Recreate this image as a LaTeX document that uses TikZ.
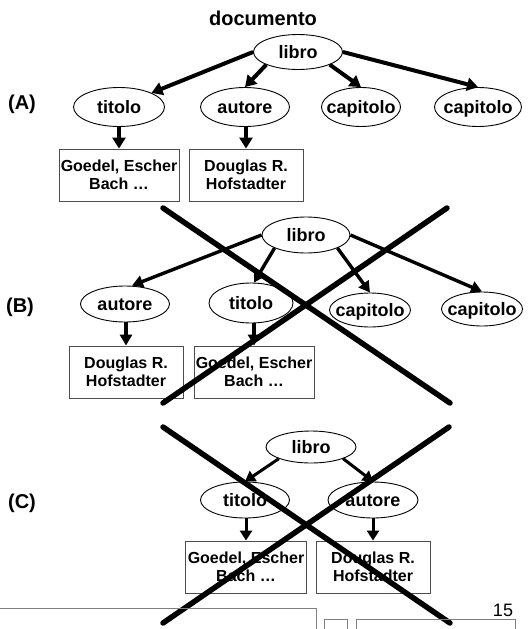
\documentclass[tikz,border=0pt]{standalone}
\usepackage{fontspec}
\setmainfont{Liberation Sans}
\usetikzlibrary{shapes.geometric,arrows.meta}
\newcommand{\ct}[1]{\makebox[0pt]{\raisebox{-0.36em}[0pt][0pt]{#1}}}
\begin{document}
\begin{tikzpicture}[x=1pt,y=-1pt,
  el/.style={ellipse,draw,line width=0.9pt,inner sep=0pt,font=\bfseries\fontsize{18}{20}\selectfont},
  bx/.style={rectangle,draw=black!70,line width=0.9pt,inner sep=0pt,minimum height=52pt,align=center,font=\bfseries\fontsize{16}{18}\selectfont},
  lab/.style={font=\bfseries\fontsize{20}{22}\selectfont,inner sep=0pt},
  arA/.style={-{Triangle[length=11pt,width=13pt]},line width=4pt},
  arB/.style={-{Triangle[length=11pt,width=12pt]},line width=3.4pt},
  arC/.style={-{Triangle[length=10pt,width=12pt]},line width=3pt},
  crossline/.style={line width=5.5pt,line cap=round},
  frame/.style={draw=black!50,line width=0.9pt}
]
\useasboundingbox (0,0) rectangle (528,629);

% ---------------- (A)
\node[lab] (doc) at (263,18) {documento};
\node[lab] (labA) at (22,104) {(A)};
\node[el,minimum width=89pt,minimum height=35pt] (libroA) at (298,52) {\ct{libro}};
\node[el,minimum width=91pt,minimum height=39pt] (titoloA) at (119,107) {\ct{titolo}};
\node[el,minimum width=89pt,minimum height=39pt] (autoreA) at (245,107) {\ct{autore}};
\node[el,minimum width=79pt,minimum height=39pt] (capA1) at (361,107) {\ct{capitolo}};
\node[el,minimum width=87pt,minimum height=39pt] (capA2) at (478,107) {\ct{capitolo}};
\node[bx,minimum width=120pt] (boxA1) at (119,175) {Goedel, Escher\\Bach …};
\node[bx,minimum width=114pt] (boxA2) at (246,175) {Douglas R.\\Hofstadter};
\draw[arA] (libroA.west) -- (titoloA.north east);
\draw[arA] (libroA.south west) -- (autoreA.north);
\draw[arA] (libroA.south east) -- (capA1.north);
\draw[arA] (libroA.east) -- (capA2.north);
\draw[arA] (titoloA.south) -- (boxA1.north);
\draw[arA] (autoreA.south -| boxA2.north) -- (boxA2.north);

% ---------------- (B)
\node[lab] (labB) at (20,307) {(B)};
\node[el,minimum width=88pt,minimum height=36pt] (libroB) at (306,235) {\ct{libro}};
\node[el,minimum width=89pt,minimum height=36pt] (autoreB) at (125,304) {\ct{autore}};
\node[el,minimum width=84pt,minimum height=40pt] (titoloB) at (251,303) {\ct{titolo}};
\node[el,minimum width=81pt,minimum height=34pt] (capB1) at (370,310) {\ct{capitolo}};
\node[el,minimum width=81pt,minimum height=34pt] (capB2) at (482,309) {\ct{capitolo}};
\node[bx,minimum width=114pt] (boxB1) at (126,372) {Douglas R.\\Hofstadter};
\node[bx,minimum width=120pt] (boxB2) at (254,372) {Goedel, Escher\\Bach …};
\draw[arB] (libroB.west) -- ([xshift=7pt]autoreB.north);
\draw[arB] (libroB.south west) -- ([xshift=3pt]titoloB.north);
\draw[arB] (libroB.south east) -- (capB1.north);
\draw[arB] (libroB.east) -- (capB2.north);
\draw[arB] (autoreB.south -| boxB1.north) -- (boxB1.north);
\draw[arB] (titoloB.south -| boxB2.north) -- (boxB2.north);
\draw[crossline] (163,208) -- (450,403);
\draw[crossline] (447,208) -- (163,403);

% ---------------- (C)
\node[lab] (labC) at (22,503) {(C)};
\node[el,minimum width=90pt,minimum height=32pt] (libroC) at (311,447) {\ct{libro}};
\node[el,minimum width=89pt,minimum height=36pt] (titoloC) at (245,500) {\ct{titolo}};
\node[el,minimum width=90pt,minimum height=36pt] (autoreC) at (373,500) {\ct{autore}};
\node[bx,minimum width=121pt] (boxC1) at (246,567) {Goedel, Escher\\Bach …};
\node[bx,minimum width=114pt] (boxC2) at (373,567) {Douglas R.\\Hofstadter};
\draw[arC] (libroC.south west) -- (titoloC.north);
\draw[arC] (libroC.south east) -- (autoreC.north);
\draw[arC] (titoloC.south -| boxC1.north) -- (boxC1.north);
\draw[arC] (autoreC.south) -- (boxC2.north);
\draw[crossline] (163,427) -- (450,623);
\draw[crossline] (449,427) -- (163,623);

% ---------------- bottom fragments
\draw[frame] (0,608) -- (316,608) -- (316,632);
\draw[frame] (324,632) -- (324,619) -- (347,619) -- (347,632);
\draw[frame] (356,632) -- (356,619) -- (515,619) -- (515,632);
\node[inner sep=0pt,font=\fontsize{18}{20}\selectfont] (pnum) at (503,610) {15};
\end{tikzpicture}
\end{document}
